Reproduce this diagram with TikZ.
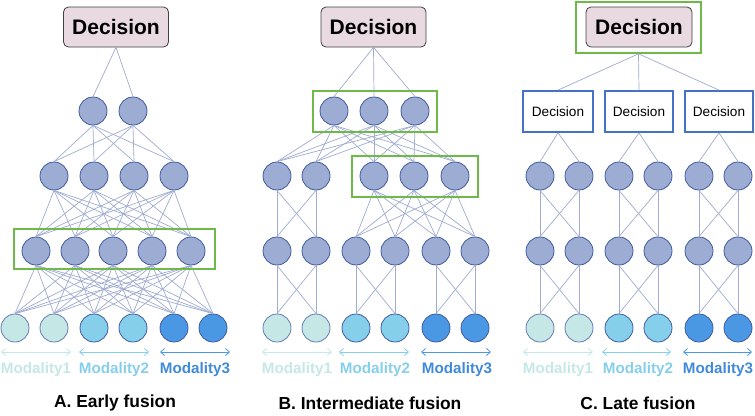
\documentclass[tikz,border=0pt]{standalone}
\usepackage{fontspec}
\setmainfont{Liberation Sans}
\usetikzlibrary{arrows.meta}
\definecolor{nodefill}{HTML}{9DACD2}
\definecolor{nodeedge}{HTML}{3F5AA0}
\definecolor{linkc}{HTML}{9FABD0}
\definecolor{mone}{HTML}{C5E8E6}
\definecolor{mtwo}{HTML}{86CFEB}
\definecolor{mthree}{HTML}{4A98E3}
\definecolor{mthreetxt}{HTML}{3F8ADB}
\definecolor{pinkfill}{HTML}{E8DAE0}
\definecolor{greenc}{HTML}{6DBA4A}
\definecolor{bluebox}{HTML}{4472C4}
\tikzset{
  neuron/.style={circle,draw=nodeedge,fill=nodefill,line width=0.8pt,minimum size=28pt,inner sep=0pt},
  inone/.style={neuron,fill=mone,draw=nodeedge!80},
  intwo/.style={neuron,fill=mtwo},
  inthree/.style={neuron,fill=mthree,draw=nodeedge},
  decbox/.style={draw=black!75,fill=pinkfill,rounded corners=5pt,line width=0.8pt,minimum width=105pt,minimum height=40pt,inner sep=0pt,font=\fontsize{21}{21}\selectfont\bfseries},
  subdec/.style={rectangle,draw=bluebox,line width=1.8pt,minimum width=68pt,minimum height=41pt,inner sep=0pt,font=\fontsize{13.6}{14}\selectfont},
  fusebox/.style={draw=greenc,line width=1.6pt},
  link/.style={draw=linkc,line width=0.7pt},
  modarrow/.style={{Straight Barb[length=4pt,width=7pt]}-{Straight Barb[length=4pt,width=7pt]},line width=0.8pt},
  modlabel/.style={font=\fontsize{15.2}{16}\selectfont\bfseries},
  title/.style={font=\fontsize{17.4}{18}\selectfont\bfseries}
}
\begin{document}
\begin{tikzpicture}[x=1pt,y=-1pt]
\useasboundingbox (0,0) rectangle (755,415);

% ================= Panel A =================
\node[decbox] (decA) at (116,27) {Decision};
\foreach \x [count=\i] in {93,133} \node[neuron] (Aa\i) at (\x,111) {};
\foreach \x [count=\i] in {54,94,134,174} \node[neuron] (Ab\i) at (\x,176) {};
\foreach \x [count=\i] in {36,75,113,152,191} \node[neuron] (Ac\i) at (\x,251) {};
\node[inone] (Ad1) at (15,328) {};
\node[inone] (Ad2) at (54,328) {};
\node[intwo] (Ad3) at (94,328) {};
\node[intwo] (Ad4) at (133,328) {};
\node[inthree] (Ad5) at (174,328) {};
\node[inthree] (Ad6) at (213,328) {};
\foreach \i in {1,2} \draw[link] (decA.south) -- (Aa\i.north);
\foreach \i in {1,2} \foreach \j in {1,...,4} \draw[link] (Aa\i.south) -- (Ab\j.north);
\foreach \i in {1,...,4} \foreach \j in {1,...,5} \draw[link] (Ab\i.south) -- (Ac\j.north);
\foreach \i in {1,...,5} \foreach \j in {1,...,6} \draw[link] (Ac\i.south) -- (Ad\j.north);
\node[fusebox,minimum width=201pt,minimum height=40pt] (gA) at (114.5,249) {};
\coordinate (amL1) at (1,352); \coordinate (amR1) at (71,352);
\coordinate (amL2) at (79,352); \coordinate (amR2) at (149,352);
\coordinate (amL3) at (160,352); \coordinate (amR3) at (230,352);
\draw[modarrow,draw=mone] (amL1) -- (amR1);
\draw[modarrow,draw=mtwo] (amL2) -- (amR2);
\draw[modarrow,draw=mthree] (amL3) -- (amR3);
\node[modlabel,text=mone] (aml1) at (36,370) {Modality1};
\node[modlabel,text=mtwo] (aml2) at (114,370) {Modality2};
\node[modlabel,text=mthreetxt] (aml3) at (195,370) {Modality3};
\node[title] (tA) at (115,403) {A. Early fusion};

% ================= Panel B =================
\node[decbox] (decB) at (373.5,27) {Decision};
\foreach \x [count=\i] in {334,374,415} \node[neuron] (Ba\i) at (\x,111) {};
\foreach \x [count=\i] in {277,316,374,414,455} \node[neuron] (Bb\i) at (\x,176) {};
\foreach \x [count=\i] in {277,316,356,395,436,475} \node[neuron] (Bc\i) at (\x,251) {};
\node[inone] (Bd1) at (277,328) {};
\node[inone] (Bd2) at (316,328) {};
\node[intwo] (Bd3) at (356,328) {};
\node[intwo] (Bd4) at (395,328) {};
\node[inthree] (Bd5) at (436,328) {};
\node[inthree] (Bd6) at (475,328) {};
\foreach \i in {1,2,3} \draw[link] (decB.south) -- (Ba\i.north);
\foreach \i in {1,2,3} \foreach \j in {1,...,5} \draw[link] (Ba\i.south) -- (Bb\j.north);
\foreach \i in {1,2} \foreach \j in {1,2} \draw[link] (Bb\i.south) -- (Bc\j.north);
\foreach \i in {3,4,5} \foreach \j in {3,...,6} \draw[link] (Bb\i.south) -- (Bc\j.north);
\foreach \i/\j in {1/1,1/2,2/1,2/2,3/3,3/4,4/3,4/4,5/5,5/6,6/5,6/6} \draw[link] (Bc\i.south) -- (Bd\j.north);
\node[fusebox,minimum width=124pt,minimum height=41pt] (gB1) at (375,111.5) {};
\node[fusebox,minimum width=126pt,minimum height=41pt] (gB2) at (415,176.5) {};
\coordinate (bmL1) at (262,352); \coordinate (bmR1) at (332,352);
\coordinate (bmL2) at (339,352); \coordinate (bmR2) at (409,352);
\coordinate (bmL3) at (421,352); \coordinate (bmR3) at (491,352);
\draw[modarrow,draw=mone] (bmL1) -- (bmR1);
\draw[modarrow,draw=mtwo] (bmL2) -- (bmR2);
\draw[modarrow,draw=mthree] (bmL3) -- (bmR3);
\node[modlabel,text=mone] (bml1) at (297,370) {Modality1};
\node[modlabel,text=mtwo] (bml2) at (375,370) {Modality2};
\node[modlabel,text=mthreetxt] (bml3) at (457,370) {Modality3};
\node[title] (tB) at (370,403) {B. Intermediate fusion};

% ================= Panel C =================
\node[fusebox,minimum width=125pt,minimum height=51pt] (gC) at (638.5,27.5) {};
\node[decbox,minimum width=106pt] (decC) at (639,27) {Decision};
\node[subdec,minimum width=70pt] (sC1) at (558,111.5) {Decision};
\node[subdec] (sC2) at (639,111.5) {Decision};
\node[subdec] (sC3) at (719,111.5) {Decision};
\foreach \x [count=\i] in {540,579,619,658,699,738} \node[neuron] (Cb\i) at (\x,176) {};
\foreach \x [count=\i] in {540,579,619,658,699,738} \node[neuron] (Cc\i) at (\x,251) {};
\node[inone] (Cd1) at (540,328) {};
\node[inone] (Cd2) at (579,328) {};
\node[intwo] (Cd3) at (619,328) {};
\node[intwo] (Cd4) at (658,328) {};
\node[inthree] (Cd5) at (699,328) {};
\node[inthree] (Cd6) at (738,328) {};
\foreach \i in {1,2,3} \draw[link] (gC.south) -- (sC\i.north);
\foreach \s/\i in {1/1,1/2,2/3,2/4,3/5,3/6} \draw[link] (sC\s.south) -- (Cb\i.north);
\foreach \i/\j in {1/1,1/2,2/1,2/2,3/3,3/4,4/3,4/4,5/5,5/6,6/5,6/6} {
  \draw[link] (Cb\i.south) -- (Cc\j.north);
  \draw[link] (Cc\i.south) -- (Cd\j.north);
}
\coordinate (cmL1) at (523,352); \coordinate (cmR1) at (593,352);
\coordinate (cmL2) at (602,352); \coordinate (cmR2) at (671,352);
\coordinate (cmL3) at (683,352); \coordinate (cmR3) at (752,352);
\draw[modarrow,draw=mone] (cmL1) -- (cmR1);
\draw[modarrow,draw=mtwo] (cmL2) -- (cmR2);
\draw[modarrow,draw=mthree] (cmL3) -- (cmR3);
\node[modlabel,text=mone] (cml1) at (558,370) {Modality1};
\node[modlabel,text=mtwo] (cml2) at (638,370) {Modality2};
\node[modlabel,text=mthreetxt] (cml3) at (718,370) {Modality3};
\node[title] (tC) at (638,403) {C. Late fusion};
\end{tikzpicture}
\end{document}
